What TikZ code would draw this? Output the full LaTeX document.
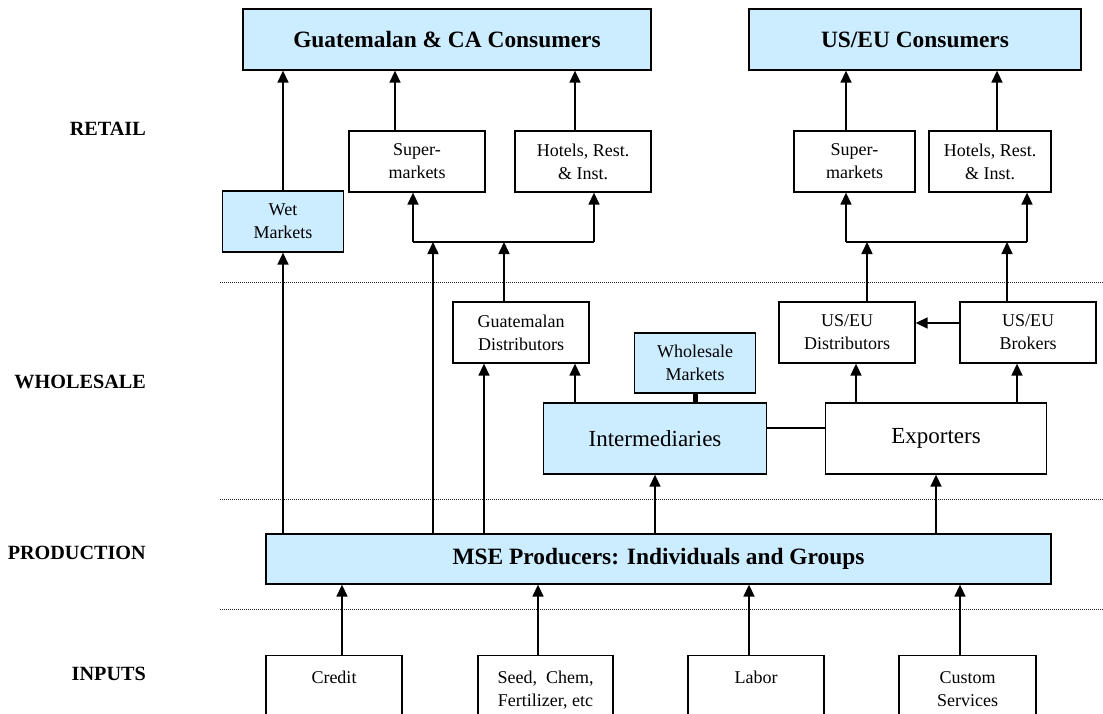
\documentclass[tikz,border=0pt]{standalone}
\usepackage{fontspec}
\setmainfont{Liberation Serif}
\usetikzlibrary{arrows.meta}
\definecolor{lb}{RGB}{204,236,255}
\newcommand\fsm{\fontsize{18}{23}\selectfont}
\newcommand\fbg{\fontsize{23}{27}\selectfont}
\newcommand\fhd{\bfseries\fontsize{23.4}{28}\selectfont}
\newcommand\flb{\bfseries\fontsize{20.2}{24}\selectfont}
\tikzset{
  box/.style={draw=black, line width=1.3pt, inner sep=0pt, align=center, font=\fsm, fill=white},
  bluebox/.style={box, fill=lb},
  arr/.style={line width=1.5pt, -{Triangle[length=12pt,width=11pt]}},
  plain/.style={line width=1.5pt},
  sep/.style={line width=1pt, dash pattern=on 1pt off 1pt, black!85},
  lab/.style={anchor=east, font=\flb, inner sep=0pt},
  inbox/.style={draw=black, line width=1.3pt, inner sep=0pt, anchor=north, font=\fsm}
}
\begin{document}
\begin{tikzpicture}[x=1pt,y=-1pt]
\useasboundingbox (0,0) rectangle (1103,714);
\clip (0,0) rectangle (1103,714);

% separators
\draw[sep] (220,282) -- (1103,282);
\draw[sep] (220,499) -- (1103,499);
\draw[sep] (220,609) -- (1103,609);

% row labels
\node[lab] (lretail) at (146,129) {RETAIL};
\node[lab] (lwhole) at (146,382) {WHOLESALE};
\node[lab] (lprod) at (146,553) {PRODUCTION};
\node[lab] (linp) at (146,674) {INPUTS};

% consumers
\node[bluebox, minimum width=408pt, minimum height=61pt, font=\fhd] (gcons) at (447,39.5) {Guatemalan \& CA Consumers};
\node[bluebox, minimum width=332pt, minimum height=61pt, font=\fhd] (ucons) at (915,39.5) {US/EU Consumers};

% retail
\node[box, minimum width=136pt, minimum height=61pt] (gsup) at (417,161.5) {Super-\\markets};
\node[box, minimum width=136pt, minimum height=61pt] (ghot) at (583,161.5) {Hotels, Rest.\\\& Inst.};
\node[box, minimum width=121pt, minimum height=61pt] (usup) at (854.5,161.5) {Super-\\markets};
\node[box, minimum width=122pt, minimum height=61pt] (uhot) at (990,161.5) {Hotels, Rest.\\\& Inst.};
\node[bluebox, minimum width=121pt, minimum height=61pt] (wet) at (283,221.5) {Wet\\Markets};

% wholesale
\node[box, minimum width=136pt, minimum height=61pt] (gd) at (521,332.5) {Guatemalan\\Distributors};
\node[box, minimum width=136pt, minimum height=61pt] (usd) at (847,332.5) {US/EU\\Distributors};
\node[box, minimum width=136pt, minimum height=61pt] (brk) at (1028,332.5) {US/EU\\Brokers};
\node[bluebox, minimum width=121pt, minimum height=60pt] (wm) at (695,363) {Wholesale\\Markets};
\node[bluebox, minimum width=223pt, minimum height=71pt, font=\fbg] (inter) at (655,438.5) {Intermediaries};
\node[box, minimum width=221pt, minimum height=71pt, font=\fbg] (exp) at (936,438.5) {Exporters};

% production
\node[bluebox, minimum width=785pt, minimum height=50pt, font=\fhd] (mse) at (658.5,559) {MSE Producers: Individuals and Groups};

% inputs
\node[inbox] (credit) at (334,655) {\parbox[t][80pt][t]{136pt}{\centering\rule{0pt}{28pt}Credit}};
\node[inbox] (seed) at (545.5,655) {\parbox[t][80pt][t]{135pt}{\centering\rule{0pt}{28pt}Seed,~~Chem,\\Fertilizer, etc}};
\node[inbox] (labor) at (756,655) {\parbox[t][80pt][t]{136pt}{\centering\rule{0pt}{28pt}Labor}};
\node[inbox] (custom) at (967.5,655) {\parbox[t][80pt][t]{137pt}{\centering\rule{0pt}{28pt}Custom\\Services}};

% column / branch coordinates
\coordinate (gbl) at (413,242);
\coordinate (gbr) at (594,242);
\coordinate (ubl) at (846,242);
\coordinate (ubr) at (1027,242);
\coordinate (xa) at (433,0);
\coordinate (xb) at (504,0);
\coordinate (xc) at (484,0);
\coordinate (xd) at (575,0);
\coordinate (xe) at (856,0);
\coordinate (xf) at (1017,0);
\coordinate (xg) at (867,0);
\coordinate (xh) at (1007,0);

% retail -> consumers
\draw[arr] (wet.north) -- (wet.north |- gcons.south);
\draw[arr] ([xshift=-22pt]gsup.north) -- ([xshift=-22pt]gsup.north |- gcons.south);
\draw[arr] ([xshift=-8pt]ghot.north) -- ([xshift=-8pt]ghot.north |- gcons.south);
\draw[arr] ([xshift=-8.5pt]usup.north) -- ([xshift=-8.5pt]usup.north |- ucons.south);
\draw[arr] ([xshift=7pt]uhot.north) -- ([xshift=7pt]uhot.north |- ucons.south);

% GT branch
\draw[plain] (gbl) -- (gbr);
\draw[arr] (gbl) -- (gbl |- gsup.south);
\draw[arr] (gbr) -- (gbr |- ghot.south);
\draw[arr] (xa |- mse.north) -- (xa |- gbl);
\draw[arr] (xb |- gd.north) -- (xb |- gbl);

% US branch
\draw[plain] (ubl) -- (ubr);
\draw[arr] (ubl) -- (ubl |- usup.south);
\draw[arr] (ubr) -- (ubr |- uhot.south);
\draw[arr] (xg |- usd.north) -- (xg |- ubl);
\draw[arr] (xh |- brk.north) -- (xh |- ubl);

% wholesale links
\draw[arr] (wet.south |- mse.north) -- (wet.south);
\draw[arr] (xc |- mse.north) -- (xc |- gd.south);
\draw[arr] (xd |- inter.north) -- (xd |- gd.south);
\draw[line width=5pt] (wm.south) -- (wm.south |- inter.north);
\draw[plain] ([yshift=10.5pt]inter.east) -- ([yshift=10.5pt]inter.east -| exp.west);
\draw[arr] (inter.south |- mse.north) -- (inter.south);
\draw[arr] (exp.south |- mse.north) -- (exp.south);
\draw[arr] (xe |- exp.north) -- (xe |- usd.south);
\draw[arr] (xf |- exp.north) -- (xf |- brk.south);
\draw[arr] ([yshift=9.5pt]brk.west) -- ([yshift=9.5pt]brk.west -| usd.east);

% inputs -> production
\draw[arr] ([xshift=8pt]credit.north) -- ([xshift=8pt]credit.north |- mse.south);
\draw[arr] ([xshift=-7.5pt]seed.north) -- ([xshift=-7.5pt]seed.north |- mse.south);
\draw[arr] ([xshift=-7pt]labor.north) -- ([xshift=-7pt]labor.north |- mse.south);
\draw[arr] ([xshift=-7.5pt]custom.north) -- ([xshift=-7.5pt]custom.north |- mse.south);
\end{tikzpicture}
\end{document}
